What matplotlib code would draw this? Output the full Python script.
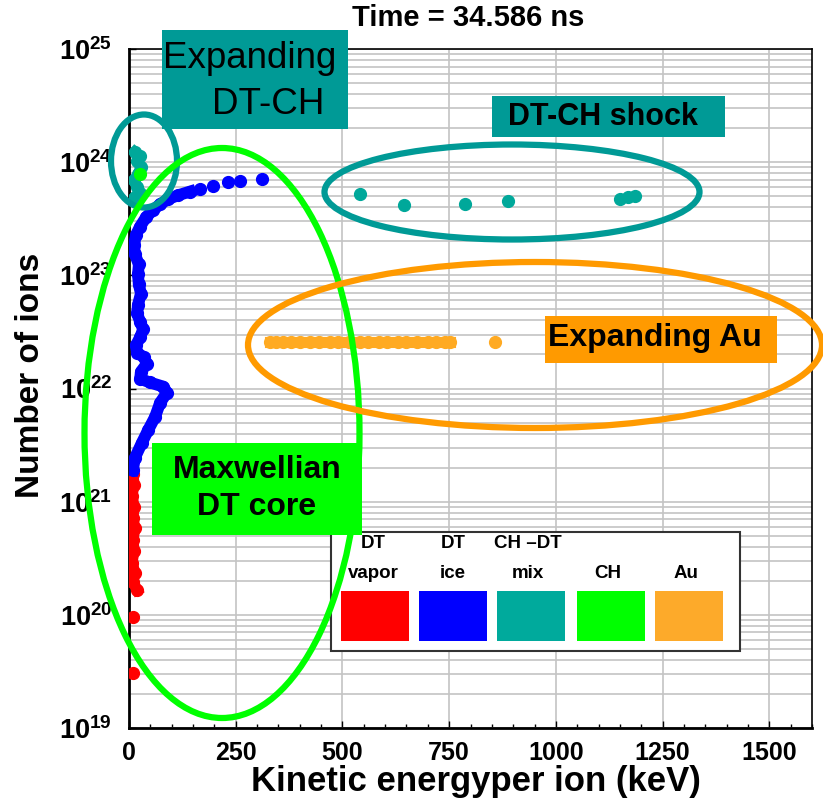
import numpy as np
import matplotlib.pyplot as plt
from matplotlib.patches import Ellipse, Rectangle
from matplotlib.ticker import MultipleLocator, LogLocator, FuncFormatter, NullFormatter

plt.rcParams['font.family'] = ['Liberation Sans', 'DejaVu Sans']
plt.rcParams['mathtext.fontset'] = 'custom'
plt.rcParams['mathtext.bf'] = 'Liberation Sans:bold'
plt.rcParams['mathtext.rm'] = 'Liberation Sans:bold'
plt.rcParams['mathtext.default'] = 'bf'

# Data (energy in keV, number of ions)
vapor_e = [9, 12, 7, 12, 9, 14, 9, 12, 7, 14, 9, 19]
vapor_n = [1.77e21, 1.41e21, 1.13e21, 9.0e20, 7.2e20, 5.8e20, 4.6e20, 3.7e20,
           2.9e20, 2.35e20, 1.96e20, 1.66e20]
vapor_lone_e = [9, 9]
vapor_lone_n = [9.6e19, 3.07e19]

ice_e = [9, 14, 30, 45, 61, 73, 89, 80, 49, 26, 28, 42, 35, 19, 16, 26, 33, 26,
         19, 21, 28, 23, 21, 23, 14, 12, 16, 26, 40, 56, 73, 91, 115, 143]
ice_n = [1.9e21, 2.45e21, 3.3e21, 4.3e21, 5.6e21, 7.5e21, 9.2e21, 1.04e22,
         1.13e22, 1.22e22, 1.41e22, 1.66e22, 1.88e22, 2.08e22, 2.4e22, 2.83e22,
         3.33e22, 3.9e22, 4.6e22, 5.5e22, 6.9e22, 8.3e22, 1.02e23, 1.25e23,
         1.53e23, 1.84e23, 2.26e23, 2.7e23, 3.26e23, 3.76e23, 4.25e23, 4.7e23,
         5.1e23, 5.5e23]
ice_lone_e = [166, 197, 232, 260, 312]
ice_lone_n = [5.8e23, 6.1e23, 6.7e23, 6.8e23, 7.1e23]

mix_core_e = [14, 26, 19, 28, 21, 12, 19, 26, 14]
mix_core_n = [1.23e24, 1.13e24, 1.02e24, 9.0e23, 7.8e23, 6.9e23, 6.0e23, 5.3e23, 4.9e23]
mix_shock_e = [541, 644, 787, 888, 1151, 1169, 1186]
mix_shock_n = [5.2e23, 4.2e23, 4.3e23, 4.5e23, 4.7e23, 4.9e23, 5.0e23]

ch_e = [26]
ch_n = [7.8e23]

au_e = [330, 345, 360, 380, 400, 425, 445, 470, 490, 515, 540, 560, 585, 605,
        630, 650, 675, 700, 720, 740, 752]
au_n = [2.6e22] * len(au_e)
au_lone_e = [857]
au_lone_n = [2.6e22]

legend_labels = ['DT\nvapor', 'DT\nice', 'CH \u2013DT\nmix', 'CH', 'Au']
legend_colors = ['#FF0000', '#0000FF', '#00AA9C', '#00FF00', '#FDAA2A']

RED, BLUE, TEAL, GREEN, GOLD = '#FF0000', '#0000FF', '#00A89A', '#00FF00', '#FFAA22'

W, H = 823, 809
fig = plt.figure(figsize=(W / 100, H / 100), dpi=100)
ax = fig.add_axes([129 / W, 1 - 728 / H, 683 / W, 679 / H])

ms = 8.5
ax.plot(vapor_e, vapor_n, '-', color=RED, lw=8, marker='o', ms=ms, zorder=3)
ax.plot(vapor_lone_e, vapor_lone_n, 'o', color=RED, ms=ms, zorder=3)
ax.plot(ice_e, ice_n, '-', color=BLUE, lw=8.5, marker='o', ms=ms, zorder=3)
ax.plot(ice_lone_e, ice_lone_n, 'o', color=BLUE, ms=ms, zorder=3)
ax.plot(mix_core_e, mix_core_n, '-', color=TEAL, lw=8, marker='o', ms=ms, zorder=3)
ax.plot(mix_shock_e, mix_shock_n, 'o', color=TEAL, ms=ms, zorder=3)
ax.plot(ch_e, ch_n, 'o', color=GREEN, ms=ms, zorder=4)
ax.plot(au_e, au_n, '-', color=GOLD, lw=8, marker='o', ms=ms, zorder=3)
ax.plot(au_lone_e, au_lone_n, 'o', color=GOLD, ms=ms, zorder=3)

ax.set_yscale('log')
ax.set_xlim(0, 1600)
ax.set_ylim(1e19, 1e25)
ax.xaxis.set_major_locator(MultipleLocator(250))
ax.xaxis.set_minor_locator(MultipleLocator(50))
ax.yaxis.set_major_locator(LogLocator(base=10, numticks=10))
ax.yaxis.set_minor_locator(LogLocator(base=10, subs=np.arange(2, 10), numticks=20))
ax.yaxis.set_minor_formatter(NullFormatter())
ax.yaxis.set_major_formatter(FuncFormatter(lambda v, p: r'$\mathbf{10^{%d}}$' % round(np.log10(v))))

ax.grid(True, which='major', axis='x', color='#C4C4C4', lw=1.2)
ax.grid(True, which='both', axis='y', color='#C4C4C4', lw=1.2)
ax.set_axisbelow(True)
ax.tick_params(direction='in', which='major', length=5, width=1, labelsize=18)
ax.tick_params(axis='x', which='major', pad=9)
ax.tick_params(axis='y', which='major', pad=12, labelsize=19.5)
ax.tick_params(axis='x', which='minor', direction='in', length=3, width=1)
ax.tick_params(axis='y', which='minor', length=0)
for lbl in ax.get_xticklabels():
    lbl.set_family(['Liberation Sans Narrow', 'Liberation Sans'])
    lbl.set_weight('bold')
for side in ['left', 'bottom']:
    ax.spines[side].set_linewidth(2)
for side in ['top', 'right']:
    ax.spines[side].set_linewidth(1.2)

fig.text(468 / W, 1 - 18 / H, 'Time = 34.586 ns', ha='center', va='center',
         fontsize=21, fontweight='bold')
fig.text(31 / W, 1 - 375 / H, 'Number of ions', rotation=90, ha='center', va='center',
         fontsize=24, fontweight='bold')
fig.text(476 / W, 1 - 782 / H, 'Kinetic energyper ion (keV)', ha='center', va='center',
         fontsize=25, fontweight='bold')


def P(px, py):
    return (px / W, 1 - py / H)


def rect(x0, y0, x1, y1, **kw):
    r = Rectangle(P(x0, y1), (x1 - x0) / W, (y1 - y0) / H, transform=fig.transFigure, **kw)
    fig.add_artist(r)


def ell(cx, cy, w, h, color):
    e = Ellipse(P(cx, cy), w / W, h / H, transform=fig.transFigure, fill=False,
                edgecolor=color, lw=4.5, zorder=20)
    fig.add_artist(e)


# legend box
rect(331, 532, 740, 651, facecolor='white', edgecolor='#333333', lw=1.5, zorder=10)
sw_x = [341, 419, 497, 577, 655]
lab_x = [373, 453, 528, 608, 686]
for x0, lx, lab, c in zip(sw_x, lab_x, legend_labels, legend_colors):
    rect(x0, 591, x0 + 68, 641, facecolor=c, edgecolor='none', zorder=11)
    lines = lab.split('\n')
    if len(lines) == 2:
        fig.text(*P(lx, 544), lines[0], ha='center', va='center', fontsize=13.5,
                 fontweight='bold', zorder=12)
    fig.text(*P(lx, 573), lines[-1], ha='center', va='center', fontsize=13.5,
             fontweight='bold', zorder=12)

# highlight ellipses
ell(144, 161, 66, 93, '#009A96')
ell(222, 433, 275, 570, '#00FF00')
ell(512, 192, 375, 95, '#009A96')
ell(535, 345, 574, 166, '#FF9A00')

# label boxes
rect(162, 30, 348, 129, facecolor='#009A96', edgecolor='none', zorder=21)
fig.text(*P(250, 58), 'Expanding', ha='center', va='center', fontsize=26.5, zorder=22)
fig.text(*P(268, 104), 'DT-CH', ha='center', va='center', fontsize=26.5, zorder=22)

rect(492, 96, 725, 137, facecolor='#009A96', edgecolor='none', zorder=21)
fig.text(*P(603, 117), 'DT-CH shock', ha='center', va='center', fontsize=22,
         fontweight='bold', zorder=22)

rect(545, 316, 777, 363, facecolor='#FF9A00', edgecolor='none', zorder=21)
fig.text(*P(655, 338), 'Expanding Au', ha='center', va='center', fontsize=23,
         fontweight='bold', zorder=22)

rect(152, 443, 362, 535, facecolor='#00FF00', edgecolor='none', zorder=21)
fig.text(*P(257, 470), 'Maxwellian', ha='center', va='center', fontsize=23,
         fontweight='bold', zorder=22)
fig.text(*P(257, 507), 'DT core', ha='center', va='center', fontsize=23,
         fontweight='bold', zorder=22)

fig.savefig('out.png', dpi=100)
